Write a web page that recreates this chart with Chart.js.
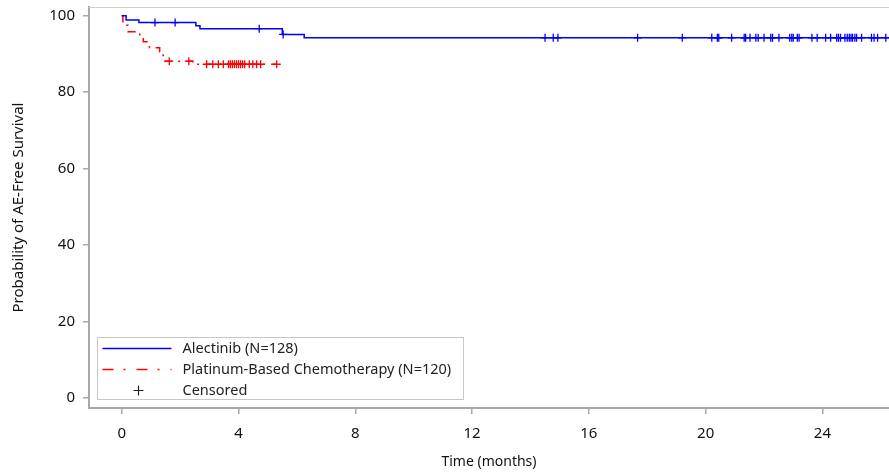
<!DOCTYPE html>
<html>
<head>
<meta charset="utf-8">
<script src="https://cdn.jsdelivr.net/npm/chart.js@4"></script>
<style>
  html, body { margin: 0; padding: 0; background: #fff; overflow: hidden; }
  canvas { display: block; }
</style>
</head>
<body>
<canvas id="km" width="889" height="472"></canvas>
<script>
// Kaplan-Meier steps: time in months, AE-free survival in %
const alectinibTimes = [0, 0.15, 0.59, 2.54, 2.68, 5.50, 6.25, 26.3];
const alectinibSurv = [100, 98.9, 98.2, 97.4, 96.6, 95.1, 94.2, 94.2];
const alectinibCensored = [1.14, 1.83, 4.71, 5.53, 14.50, 14.78, 14.94, 17.67, 19.20,
  20.21, 20.40, 20.45, 20.89, 21.32, 21.37, 21.52, 21.72, 21.80, 22.00, 22.23, 22.29,
  22.51, 22.88, 22.95, 23.00, 23.14, 23.20, 23.64, 23.82, 24.11, 24.28, 24.49, 24.55,
  24.62, 24.77, 24.85, 24.92, 24.98, 25.03, 25.11, 25.17, 25.34, 25.68, 25.77, 25.89, 26.17];

const chemoTimes = [0, 0.04, 0.22, 0.62, 0.74, 0.95, 1.30, 1.42, 2.44, 5.31];
const chemoSurv = [100, 97.5, 95.8, 95.0, 93.2, 91.6, 90.6, 88.1, 87.3, 87.3];
const chemoCensored = [1.63, 2.30, 2.91, 3.12, 3.31, 3.48, 3.66, 3.72, 3.79, 3.86, 3.93,
  4.00, 4.07, 4.14, 4.21, 4.37, 4.49, 4.62, 4.76, 5.31];

const xTicks = [0, 4, 8, 12, 16, 20, 24];
const yTicks = [0, 20, 40, 60, 80, 100];
const legendLabels = ['Alectinib (N=128)', 'Platinum-Based Chemotherapy (N=120)', 'Censored'];

const FONT = '"Noto Sans", "DejaVu Sans", sans-serif';
const AXIS_GREY = '#a8a8a8';

function steps(times, surv) {
  return times.map((t, i) => ({ x: t, y: surv[i] }));
}

function survAt(times, surv, t) {
  let s = surv[0];
  for (let i = 0; i < times.length; i++) {
    if (times[i] <= t) s = surv[i];
  }
  return s;
}

function censorPoints(list, times, surv) {
  return list.map(t => ({ x: t, y: survAt(times, surv, t) }));
}

// frame top line + legend box in the lower left of the plot
const decorations = {
  id: 'decorations',
  afterDraw(chart) {
    const { ctx, chartArea } = chart;
    ctx.save();
    ctx.strokeStyle = '#cfcfcf';
    ctx.lineWidth = 1;
    ctx.beginPath();
    ctx.moveTo(chartArea.left, chartArea.top + 0.5);
    ctx.lineTo(chartArea.right, chartArea.top + 0.5);
    ctx.stroke();

    const bx = chartArea.left + 8.5;
    const by = chartArea.bottom - 70.5;
    ctx.strokeStyle = '#c8c8c8';
    ctx.strokeRect(bx, by, 366, 62);

    const rows = [by + 11, by + 32, by + 53];
    ctx.lineWidth = 1.5;
    ctx.strokeStyle = '#0000ff';
    ctx.beginPath();
    ctx.moveTo(bx + 5, rows[0]);
    ctx.lineTo(bx + 74, rows[0]);
    ctx.stroke();

    ctx.strokeStyle = '#ff0000';
    ctx.setLineDash([11, 10, 2, 11]);
    ctx.beginPath();
    ctx.moveTo(bx + 5, rows[1]);
    ctx.lineTo(bx + 74, rows[1]);
    ctx.stroke();
    ctx.setLineDash([]);

    ctx.strokeStyle = '#222';
    ctx.lineWidth = 1.2;
    ctx.beginPath();
    ctx.moveTo(bx + 36, rows[2]);
    ctx.lineTo(bx + 46, rows[2]);
    ctx.moveTo(bx + 41, rows[2] - 5);
    ctx.lineTo(bx + 41, rows[2] + 5);
    ctx.stroke();

    ctx.fillStyle = '#222';
    ctx.font = '14.5px ' + FONT;
    ctx.textBaseline = 'middle';
    legendLabels.forEach((txt, i) => ctx.fillText(txt, bx + 85, rows[i]));
    ctx.restore();
  }
};

new Chart(document.getElementById('km'), {
  type: 'line',
  data: {
    datasets: [
      {
        label: 'Alectinib',
        data: steps(alectinibTimes, alectinibSurv),
        borderColor: '#0000ff',
        borderWidth: 1.5,
        stepped: 'before',
        pointRadius: 0,
        fill: false,
      },
      {
        label: 'Platinum-Based Chemotherapy',
        data: steps(chemoTimes, chemoSurv),
        borderColor: '#ff0000',
        borderWidth: 1.5,
        borderDash: [8, 6, 2, 6],
        stepped: 'before',
        pointRadius: 0,
        fill: false,
      },
      {
        label: 'Alectinib censored',
        data: censorPoints(alectinibCensored, alectinibTimes, alectinibSurv),
        showLine: false,
        pointStyle: 'cross',
        pointRadius: 4,
        borderColor: '#0000ff',
        borderWidth: 1.3,
      },
      {
        label: 'Chemo censored',
        data: censorPoints(chemoCensored, chemoTimes, chemoSurv),
        showLine: false,
        pointStyle: 'cross',
        pointRadius: 4,
        borderColor: '#ff0000',
        borderWidth: 1.3,
      },
    ],
  },
  options: {
    responsive: false,
    animation: false,
    layout: { autoPadding: false, padding: { top: 7, right: 0, left: 0, bottom: 0 } },
    plugins: {
      legend: { display: false },
      tooltip: { enabled: false },
    },
    scales: {
      x: {
        type: 'linear',
        min: -1.12,
        max: 26.28,
        afterBuildTicks: (s) => { s.ticks = xTicks.map(v => ({ value: v })); },
        afterFit: (s) => { s.height = 64; s.paddingLeft = 0; s.paddingRight = 0; },
        border: { display: true, color: AXIS_GREY, width: 2 },
        grid: { drawOnChartArea: false, drawTicks: true, tickLength: 6, color: AXIS_GREY, lineWidth: 1.5 },
        ticks: { padding: 11, color: '#111', font: { family: FONT, size: 15 } },
        title: {
          display: true,
          text: 'Time (months)',
          color: '#111',
          font: { family: FONT, size: 14 },
          padding: { top: 0, bottom: 2 },
        },
      },
      y: {
        min: -2.56,
        max: 102.27,
        afterBuildTicks: (s) => { s.ticks = yTicks.map(v => ({ value: v })); },
        afterFit: (s) => { s.width = 89; s.paddingTop = 0; s.paddingBottom = 0; },
        border: { display: true, color: AXIS_GREY, width: 2 },
        grid: { drawOnChartArea: false, drawTicks: true, tickLength: 6, color: AXIS_GREY, lineWidth: 1.5 },
        ticks: { padding: 8, color: '#111', font: { family: FONT, size: 15 } },
        title: {
          display: true,
          text: 'Probability of AE-Free Survival',
          color: '#111',
          font: { family: FONT, size: 15 },
          padding: { top: 10, bottom: 0 },
        },
      },
    },
  },
  plugins: [decorations],
});
</script>
</body>
</html>
